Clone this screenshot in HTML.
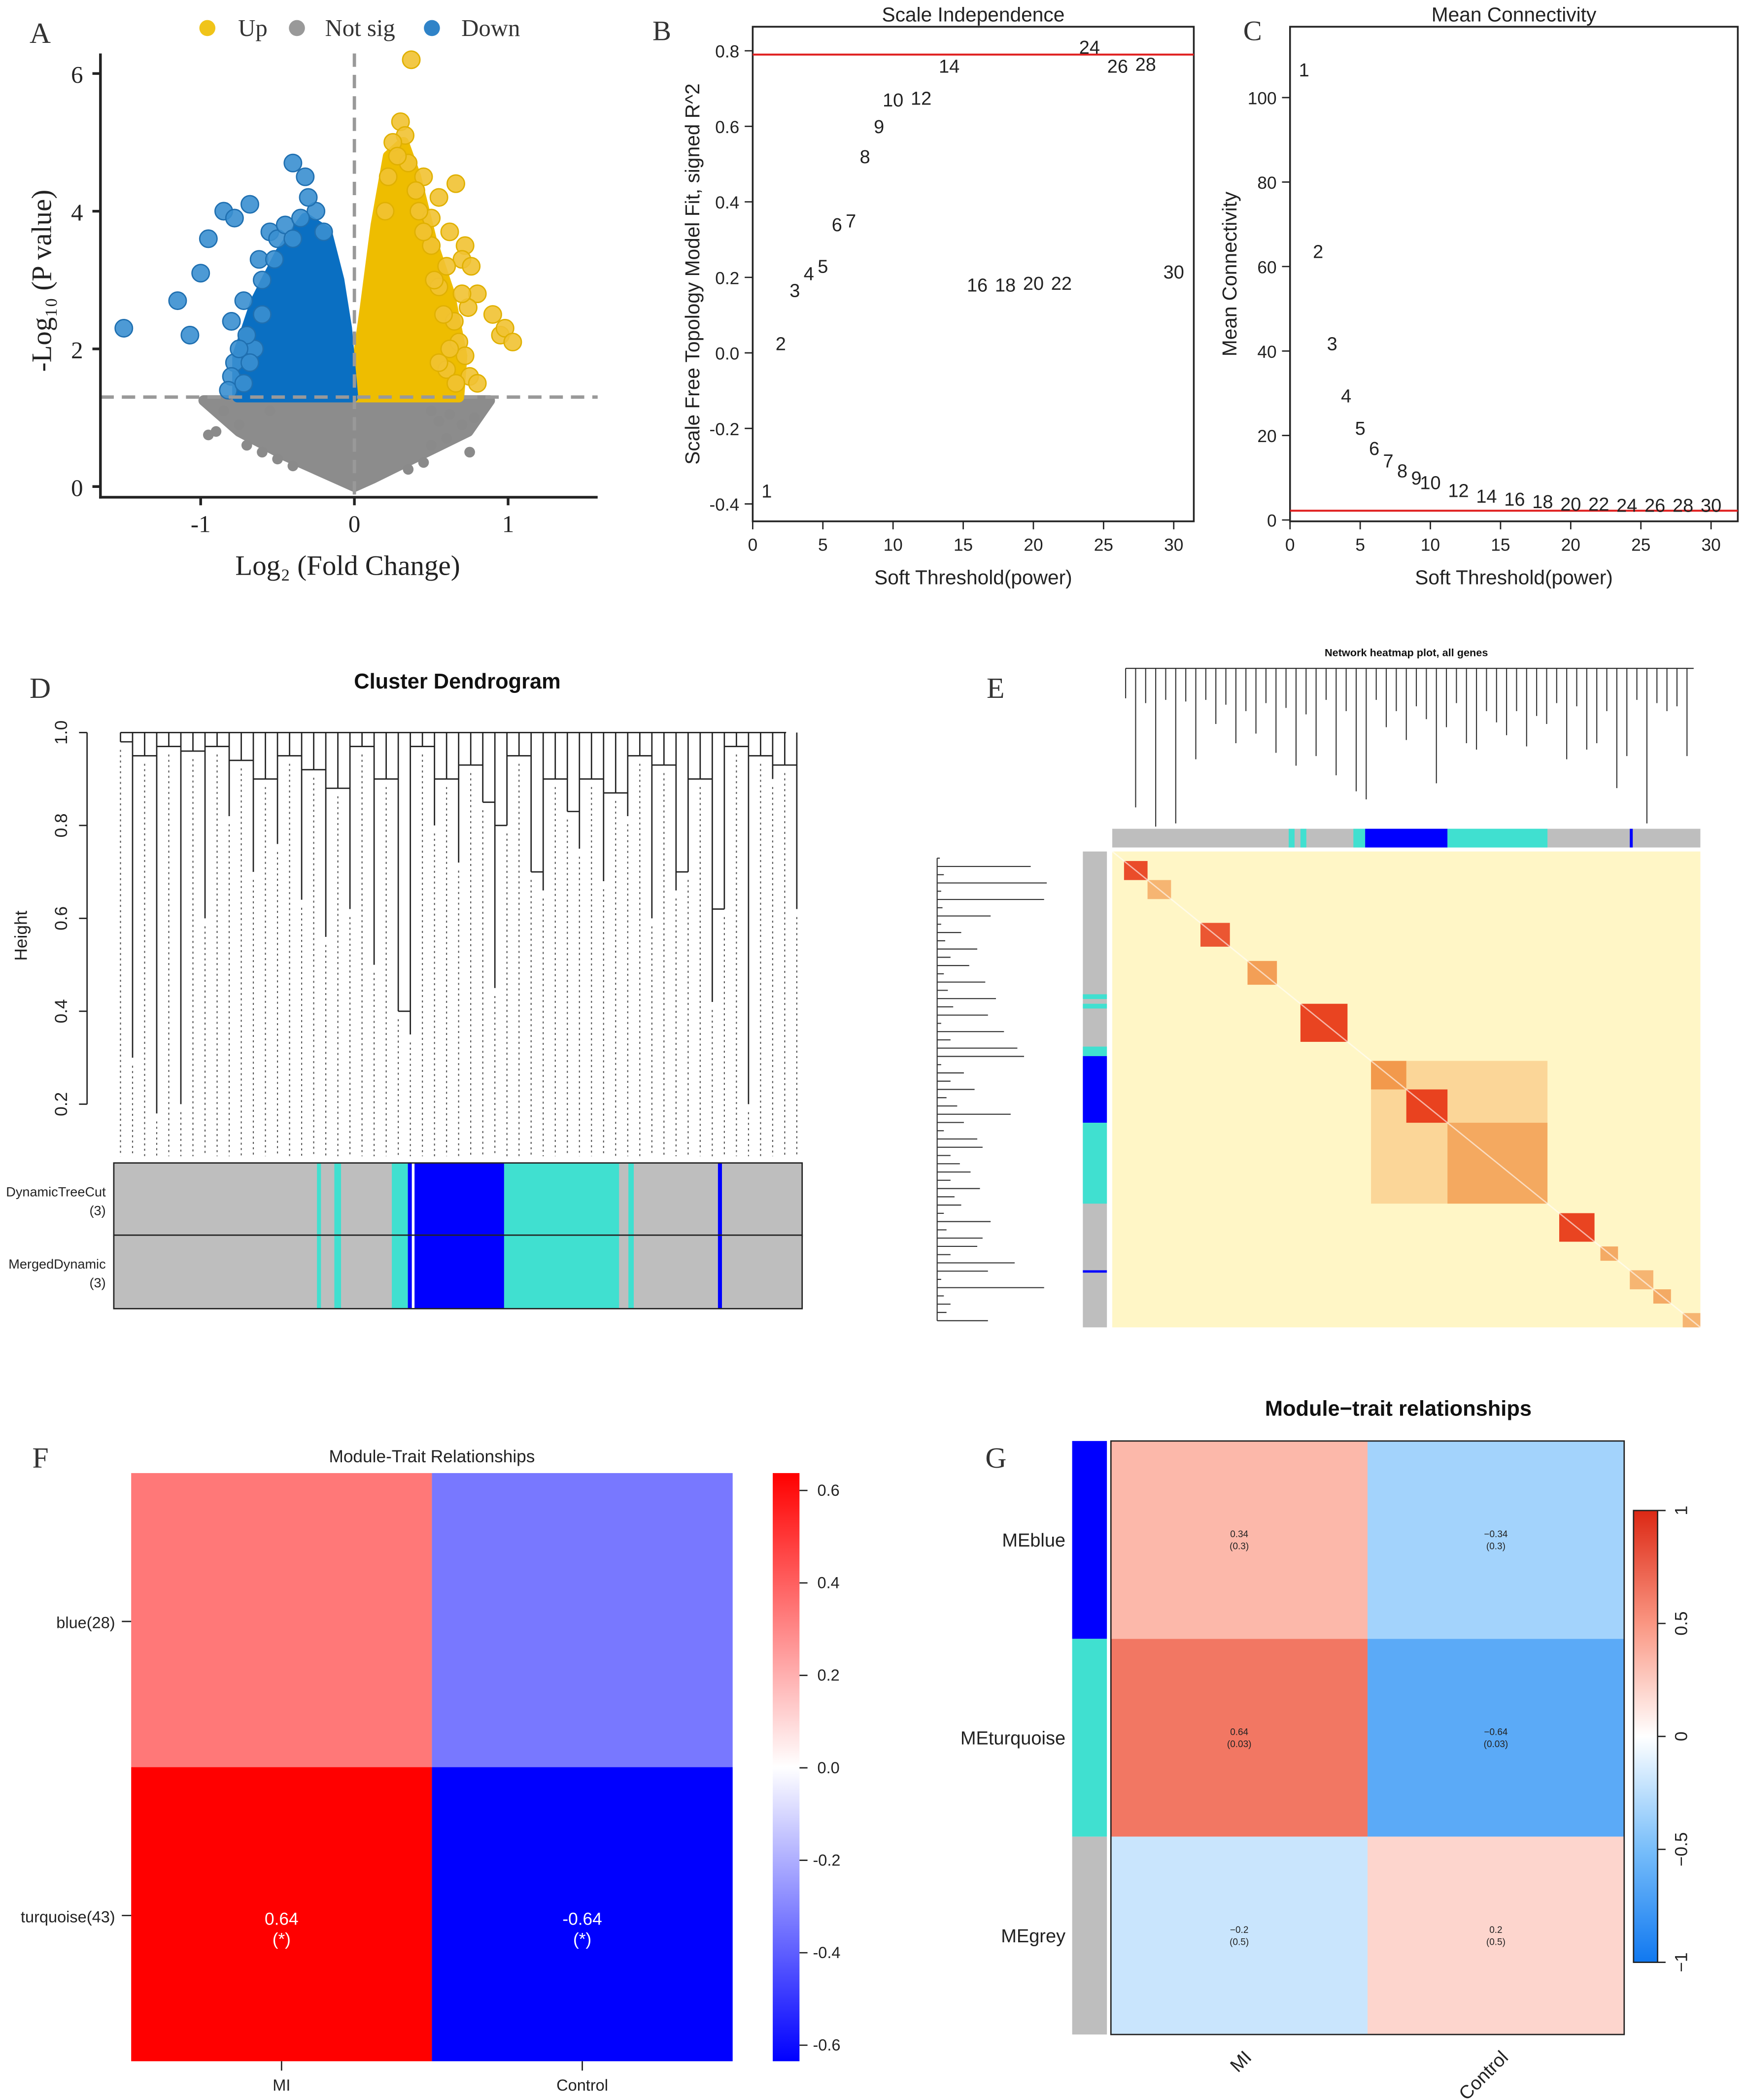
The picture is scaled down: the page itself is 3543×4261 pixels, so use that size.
<!DOCTYPE html>
<html><head><meta charset="utf-8"><style>
html,body{margin:0;padding:0;background:#fff;}
svg{display:block;font-family:"Liberation Sans",sans-serif;}
.ser{font-family:"Liberation Serif",serif;}
</style></head><body>
<svg id="fig" xmlns="http://www.w3.org/2000/svg" width="3543" height="4261" viewBox="0 0 1306 1571">
<rect width="1306" height="1571" fill="#fff"/>
<g id="A"></g>
<g id="B"></g>
<g id="C"></g>
<g id="D"></g>
<g id="E"></g>
<g id="F"></g>
<g id="G"></g>
</svg>
<script>
// ---------- data ----------
const upPts=[[0.37,6.2],[0.3,5.3],[0.33,5.1],[0.25,5.0],[0.66,4.4],[0.55,4.2],[0.45,4.5],[0.5,3.9],[0.62,3.7],[0.72,3.5],[0.7,3.3],[0.76,3.2],[0.8,2.8],[0.9,2.5],[0.95,2.2],[0.98,2.3],[1.03,2.1],[0.74,2.6],[0.68,2.1],[0.72,1.9],[0.75,1.6],[0.6,1.7],[0.8,1.5],[0.55,2.9],[0.6,3.2],[0.5,3.5],[0.42,4.0],[0.65,2.4],[0.35,4.7],[0.4,4.3],[0.58,2.5],[0.62,2.0],[0.66,1.5],[0.52,3.0],[0.45,3.7],[0.28,4.8],[0.22,4.5],[0.2,4.0],[0.55,1.8],[0.7,2.8]];
const downPts=[[-1.5,2.3],[-1.15,2.7],[-1.07,2.2],[-1.0,3.1],[-0.95,3.6],[-0.85,4.0],[-0.78,3.9],[-0.68,4.1],[-0.55,3.7],[-0.4,4.7],[-0.32,4.5],[-0.25,4.0],[-0.72,2.7],[-0.62,3.3],[-0.8,2.4],[-0.78,1.8],[-0.8,1.6],[-0.82,1.4],[-0.65,2.0],[-0.5,3.6],[-0.45,3.8],[-0.3,4.2],[-0.6,2.5],[-0.7,2.2],[-0.72,1.5],[-0.68,1.8],[-0.6,3.0],[-0.52,3.3],[-0.4,3.6],[-0.35,3.9],[-0.2,3.7],[-0.75,2.0]];
const nsPts=[[-0.95,0.75],[-0.9,0.8],[-0.7,0.6],[-0.6,0.5],[0.5,0.6],[0.6,0.7],[0.7,0.9],[0.75,0.5],[0.55,0.95],[-0.75,0.9],[-0.5,0.4],[0.45,0.35],[0.5,1.1],[-0.55,1.1],[0.62,1.05],[-0.85,1.1],[0.78,1.0],[-0.4,0.3],[0.35,0.25]];
const upCore=[[0.01,1.3],[0.68,1.3],[0.7,1.9],[0.62,2.8],[0.5,3.6],[0.4,4.5],[0.32,5.0],[0.22,4.8],[0.14,3.8],[0.07,2.6],[0.02,1.8]];
const downCore=[[-0.01,1.3],[-0.76,1.3],[-0.76,1.9],[-0.64,2.7],[-0.48,3.4],[-0.32,3.9],[-0.18,3.7],[-0.1,3.0],[-0.05,2.3]];
const nsCore=[[-0.98,1.25],[0.88,1.25],[0.74,0.8],[0.42,0.45],[0.12,0.12],[0,0.0],[-0.12,0.12],[-0.45,0.45],[-0.75,0.8]];
const powers=[1,2,3,4,5,6,7,8,9,10,12,14,16,18,20,22,24,26,28,30];
const sftFit=[-0.365,0.025,0.166,0.21,0.23,0.34,0.35,0.52,0.6,0.67,0.675,0.76,0.18,0.18,0.185,0.185,0.81,0.76,0.765,0.215];
const meanK=[106.6,63.6,41.8,29.4,21.8,17,14,11.7,10,8.9,7,5.7,5,4.4,3.8,3.8,3.5,3.5,3.5,3.5];
const leafH=[0.98,0.3,0.95,0.18,0.97,0.2,0.96,0.6,0.97,0.82,0.94,0.7,0.9,0.76,0.95,0.64,0.92,0.56,0.88,0.62,0.97,0.5,0.9,0.4,0.35,0.97,0.8,0.9,0.72,0.93,0.85,0.45,0.8,0.95,0.7,0.66,0.9,0.83,0.75,0.9,0.68,0.87,0.82,0.95,0.6,0.93,0.66,0.7,0.9,0.42,0.62,0.97,0.2,0.95,0.9,0.93,0.62];
const fRows=['blue(28)','turquoise(43)'];
const fCols=['MI','Control'];
const fVals=[[0.34,-0.34],[0.64,-0.64]];
const gRows=['MEblue','MEturquoise','MEgrey'];
const gVals=[[0.34,-0.34],[0.64,-0.64],[-0.2,0.2]];
const gP=[['0.3','0.3'],['0.03','0.03'],['0.5','0.5']];
const blocks=[[0.02,0.06,0.9],[0.06,0.1,0.6],[0.15,0.2,0.85],[0.23,0.28,0.8],[0.32,0.4,0.95],[0.44,0.5,0.8],[0.5,0.57,0.95],[0.57,0.74,0.6],[0.76,0.82,0.95],[0.83,0.86,0.7],[0.88,0.92,0.6],[0.92,0.95,0.7],[0.97,1.0,0.6]];

const NS='http://www.w3.org/2000/svg';
function el(p,t,a,txt){const e=document.createElementNS(NS,t);for(const k in a)e.setAttribute(k,a[k]);if(txt!==undefined)e.textContent=txt;p.appendChild(e);return e;}
function lin(d0,d1,r0,r1){return v=>r0+(v-d0)*(r1-r0)/(d1-d0);}

// ---------- A ----------
(function(){
const g=document.getElementById('A');
const x=lin(0,1,265,380), y=lin(0,2,364,261);
let t=el(g,'text',{x:22,y:32,'font-size':22,class:'ser',fill:'#333'},'A');

[['#f0c419',155,'Up',178],['#999',222,'Not sig',243],['#2f83c8',323,'Down',345]].forEach((l,i)=>{
 const lg=el(g,'g',{});
 el(lg,'circle',{cx:l[1],cy:21,r:6,fill:l[0]});el(lg,'text',{x:l[3],y:27,'font-size':18,class:'ser',fill:'#333'},l[2]);});
const poly=(pts,c,n)=>{const p=el(g,'polygon',{points:pts.map(q=>x(q[0])+','+y(q[1])).join(' '),fill:c,stroke:c,'stroke-width':8,'stroke-linejoin':'round'});};
poly(nsCore,'#8c8c8c','not-sig-core');poly(upCore,'#eebd00','up-core');poly(downCore,'#0a6fc2','down-core');
nsPts.forEach(p=>{const c=el(g,'circle',{cx:x(p[0]),cy:y(p[1]),r:4,fill:'#8a8a8a'});});
upPts.forEach(p=>{const c=el(g,'circle',{cx:x(p[0]),cy:y(p[1]),r:6.5,fill:'#f1c232',stroke:'#e0b000','fill-opacity':0.9});});
downPts.forEach(p=>{const c=el(g,'circle',{cx:x(p[0]),cy:y(p[1]),r:6.5,fill:'#3a8fd0',stroke:'#1f6fb0','fill-opacity':0.9});});
el(g,'line',{x1:75,y1:y(1.3),x2:447,y2:y(1.3),stroke:'#999','stroke-width':2.5,'stroke-dasharray':'10,6'});
el(g,'line',{x1:265,y1:40,x2:265,y2:372,stroke:'#999','stroke-width':2.5,'stroke-dasharray':'10,6'});
el(g,'line',{x1:75,y1:40,x2:75,y2:373,stroke:'#222','stroke-width':2});
el(g,'line',{x1:74,y1:372,x2:447,y2:372,stroke:'#222','stroke-width':2});
[0,2,4,6].forEach(v=>{el(g,'line',{x1:69,y1:y(v),x2:75,y2:y(v),stroke:'#222','stroke-width':2});el(g,'text',{x:62,y:y(v)+7,'font-size':18,class:'ser','text-anchor':'end',fill:'#222'},v);});
[-1,0,1].forEach(v=>{el(g,'line',{x1:x(v),y1:372,x2:x(v),y2:378,stroke:'#222','stroke-width':2});el(g,'text',{x:x(v),y:398,'font-size':18,class:'ser','text-anchor':'middle',fill:'#222'},v);});
el(g,'text',{x:260,y:430,'font-size':21,class:'ser','text-anchor':'middle',fill:'#222'},'Log\u2082 (Fold Change)');
el(g,'text',{transform:'translate(38,210) rotate(-90)','font-size':21,class:'ser','text-anchor':'middle',fill:'#222'},'-Log\u2081\u2080 (P value)');
})();

// ---------- B & C ----------
function scatterText(id,letter,lx,box,xd,yd,yTicks,yTickLab,vals,redV,title,ylab){
 const g=document.getElementById(id);
 const x=lin(0,30,xd[0],xd[1]), y=lin(yd[0],yd[1],yd[2],yd[3]);
 el(g,'text',{x:lx,y:30,'font-size':21,class:'ser',fill:'#333'},letter);
 el(g,'text',{x:(box[0]+box[2])/2,y:16,'font-size':15,'text-anchor':'middle',fill:'#222'},title);
 el(g,'rect',{x:box[0],y:box[1],width:box[2]-box[0],height:box[3]-box[1],fill:'none',stroke:'#222','stroke-width':1.3});
 [0,5,10,15,20,25,30].forEach(v=>{el(g,'line',{x1:x(v),y1:box[3],x2:x(v),y2:box[3]+6,stroke:'#222'});el(g,'text',{x:x(v),y:box[3]+22,'font-size':13,'text-anchor':'middle',fill:'#222'},v);});
 yTicks.forEach((v,i)=>{el(g,'line',{x1:box[0]-6,y1:y(v),x2:box[0],y2:y(v),stroke:'#222'});el(g,'text',{x:box[0]-10,y:y(v)+5,'font-size':13,'text-anchor':'end',fill:'#222'},yTickLab[i]);});
 const r=el(g,'line',{x1:box[0],y1:y(redV),x2:box[2],y2:y(redV),stroke:'#e02020','stroke-width':1.5});
 powers.forEach((p,i)=>{const t=el(g,'text',{x:x(p),y:y(vals[i])+5,'font-size':14,'text-anchor':'middle',fill:'#222'},p);});
 el(g,'text',{x:(box[0]+box[2])/2,y:box[3]+47,'font-size':15,'text-anchor':'middle',fill:'#222'},'Soft Threshold(power)');
 el(g,'text',{transform:`translate(${box[0]-40},${(box[1]+box[3])/2}) rotate(-90)`,'font-size':15,'text-anchor':'middle',fill:'#222'},ylab);
}
scatterText('B','B',488,[563,20,893,390],[563,878],[0,0.8,264,38],[-0.4,-0.2,0,0.2,0.4,0.6,0.8],['-0.4','-0.2','0.0','0.2','0.4','0.6','0.8'],sftFit,0.79,'Scale Independence','Scale Free Topology Model Fit, signed R^2');
scatterText('C','C',930,[965,20,1300,390],[965,1280],[0,100,389,73],[0,20,40,60,80,100],['0','20','40','60','80','100'],meanK,2.2,'Mean Connectivity','Mean Connectivity');

// ---------- D ----------
(function(){
const g=document.getElementById('D');
el(g,'text',{x:22,y:522,'font-size':22,class:'ser',fill:'#333'},'D');
el(g,'text',{x:342,y:515,'font-size':16,'font-weight':'bold','text-anchor':'middle',fill:'#111'},'Cluster Dendrogram');
const y=lin(0.2,1.0,826,548);
el(g,'line',{x1:65,y1:y(1.0),x2:65,y2:y(0.2),stroke:'#222'});
[0.2,0.4,0.6,0.8,1.0].forEach(v=>{el(g,'line',{x1:59,y1:y(v),x2:65,y2:y(v),stroke:'#222'});el(g,'text',{transform:`translate(50,${y(v)}) rotate(-90)`,'font-size':13,'text-anchor':'middle',fill:'#222'},v.toFixed(1));});
el(g,'text',{transform:'translate(20,700) rotate(-90)','font-size':13,'text-anchor':'middle',fill:'#222'},'Height');
const n=leafH.length, x0=90, x1=596;
const lx=i=>x0+i*(x1-x0)/(n-1);
el(g,'line',{x1:x0,y1:y(1.0),x2:588,y2:y(1.0),stroke:'#222'});
leafH.forEach((h,i)=>{
 const l=el(g,'line',{x1:lx(i),y1:y(Math.min(h,1)),x2:lx(i),y2:y(1.0),stroke:'#222','stroke-width':1});
 el(g,'line',{x1:lx(i),y1:y(h)+6,x2:lx(i),y2:865,stroke:'#555','stroke-dasharray':'1.5,2.5','stroke-width':0.8});
 if(i<n-1){el(g,'line',{x1:lx(i),y1:y(Math.max(h,leafH[i+1])),x2:lx(i+1),y2:y(Math.max(h,leafH[i+1])),stroke:'#222'});}
});
const segs=[['#bebebe',85,600],['#40e0d0',237,240],['#40e0d0',250,255],['#40e0d0',293,305],['#0000ff',305,308],['#ffffff',308,310],['#0000ff',310,377],['#40e0d0',377,463],['#40e0d0',470,474],['#0000ff',537,540]];
[870,924].forEach((yy,k)=>{segs.forEach(s=>{const r=el(g,'rect',{x:s[1],y:yy,width:s[2]-s[1],height:55,fill:s[0]});});
 el(g,'rect',{x:85,y:yy,width:515,height:55,fill:'none',stroke:'#222'});});
el(g,'text',{x:79,y:895,'font-size':10,'text-anchor':'end',fill:'#222'},'DynamicTreeCut');
el(g,'text',{x:79,y:909,'font-size':10,'text-anchor':'end',fill:'#222'},'(3)');
el(g,'text',{x:79,y:949,'font-size':10,'text-anchor':'end',fill:'#222'},'MergedDynamic');
el(g,'text',{x:79,y:963,'font-size':10,'text-anchor':'end',fill:'#222'},'(3)');
})();

// ---------- E ----------
(function(){
const g=document.getElementById('E');
el(g,'text',{x:738,y:522,'font-size':22,class:'ser',fill:'#333'},'E');
el(g,'text',{x:1052,y:491,'font-size':8,'font-weight':'bold','text-anchor':'middle',fill:'#111'},'Network heatmap plot, all genes');
const X0=832,X1=1272,Y0=637,Y1=993,W=X1-X0,H=Y1-Y0;
el(g,'rect',{x:X0,y:Y0,width:W,height:H,fill:'#fff6c6'});
el(g,'rect',{x:X0+0.44*W,y:Y0+0.44*H,width:0.3*W,height:0.3*H,fill:'#f7b060','fill-opacity':0.45});
blocks.forEach(b=>{
 const r=el(g,'rect',{x:X0+b[0]*W,y:Y0+b[0]*H,width:(b[1]-b[0])*W,height:(b[1]-b[0])*H,fill:b[2]>0.8?'#e83a18':'#f08a3a','fill-opacity':b[2]});
 });
el(g,'line',{x1:X0,y1:Y0,x2:X1,y2:Y1,stroke:'#ffffff','stroke-width':1,'stroke-opacity':0.6});
[['#bebebe',0,1],['#40e0d0',0.3,0.31],['#40e0d0',0.32,0.33],['#40e0d0',0.41,0.43],['#0000ff',0.43,0.57],['#40e0d0',0.57,0.74],['#0000ff',0.88,0.885]].forEach(s=>{
 el(g,'rect',{x:X0+s[1]*W,y:620,width:(s[2]-s[1])*W,height:14,fill:s[0]});
 el(g,'rect',{x:810,y:Y0+s[1]*H,width:18,height:(s[2]-s[1])*H,fill:s[0]});});
leafH.forEach((h,i)=>{const xx=X0+10+i*(W-20)/(leafH.length-1);
 el(g,'line',{x1:xx,y1:500,x2:xx,y2:500+(1-h)*120+20,stroke:'#333','stroke-width':0.8});
 el(g,'line',{x1:701+(1-h)*100,y1:Y0+5+i*(H-10)/(leafH.length-1),x2:701,y2:Y0+5+i*(H-10)/(leafH.length-1),stroke:'#333','stroke-width':0.8});});
el(g,'line',{x1:X0+10,y1:500,x2:X1-5,y2:500,stroke:'#333','stroke-width':0.8});
el(g,'line',{x1:701,y1:Y0+5,x2:701,y2:Y1-5,stroke:'#333','stroke-width':0.8});
})();

// ---------- F ----------
(function(){
const g=document.getElementById('F');
el(g,'text',{x:24,y:1098,'font-size':22,class:'ser',fill:'#333'},'F');
el(g,'text',{x:323,y:1094,'font-size':13,'text-anchor':'middle',fill:'#222'},'Module-Trait Relationships');
const X0=98,Y0=1102,cw=225,ch=220;
const col=v=>{const a=Math.min(1,Math.abs(v)/0.64);const c=Math.round(255*(1-a));return v>0?`rgb(255,${c},${c})`:`rgb(${c},${c},255)`;};
fVals.forEach((row,i)=>row.forEach((v,j)=>{
 const r=el(g,'rect',{x:X0+j*cw,y:Y0+i*ch,width:cw,height:ch,fill:col(v)});
 if(i==1){el(g,'text',{x:X0+j*cw+cw/2,y:Y0+i*ch+ch/2+8,'font-size':13,'text-anchor':'middle',fill:'#fff'},v.toFixed(2));el(g,'text',{x:X0+j*cw+cw/2,y:Y0+i*ch+ch/2+23,'font-size':13,'text-anchor':'middle',fill:'#fff'},'(*)');}
}));
fRows.forEach((r,i)=>{const yy=Y0+i*ch+ch/2+1;el(g,'line',{x1:91,y1:yy,x2:98,y2:yy,stroke:'#222'});el(g,'text',{x:86,y:yy+5,'font-size':12,'text-anchor':'end',fill:'#222'},r);});
fCols.forEach((c,j)=>{const xx=X0+j*cw+cw/2;el(g,'line',{x1:xx,y1:1542,x2:xx,y2:1549,stroke:'#222'});el(g,'text',{x:xx,y:1564,'font-size':12,'text-anchor':'middle',fill:'#222'},c);});
const df=el(g,'defs',{});const lg=el(df,'linearGradient',{id:'gf',x1:0,y1:0,x2:0,y2:1});
el(lg,'stop',{offset:0,'stop-color':'#ff0000'});el(lg,'stop',{offset:0.5,'stop-color':'#ffffff'});el(lg,'stop',{offset:1,'stop-color':'#0000ff'});
el(g,'rect',{x:578,y:1102,width:20,height:440,fill:'url(#gf)'});
const cy=lin(-0.6,0.6,1530,1115);
[0.6,0.4,0.2,0,-0.2,-0.4,-0.6].forEach(v=>{el(g,'line',{x1:598,y1:cy(v),x2:604,y2:cy(v),stroke:'#222'});el(g,'text',{x:608,y:cy(v)+4,'font-size':12,fill:'#222'},(v<0?'-':'\u00a0')+Math.abs(v).toFixed(1));});
})();

// ---------- G ----------
(function(){
const g=document.getElementById('G');
el(g,'text',{x:737,y:1098,'font-size':22,class:'ser',fill:'#333'},'G');
el(g,'text',{x:1046,y:1059,'font-size':16,'font-weight':'bold','text-anchor':'middle',fill:'#111'},'Module\u2212trait relationships');
const X0=831,Y0=1078,cw=192,ch=148;
const stops=[[-1,[16,120,240]],[-0.5,[120,190,250]],[0,[255,255,255]],[0.5,[250,150,130]],[1,[220,40,20]]];
const col=v=>{for(let k=0;k<stops.length-1;k++){const a=stops[k],b=stops[k+1];if(v<=b[0]){const t=(v-a[0])/(b[0]-a[0]);return 'rgb('+a[1].map((c,q)=>Math.round(c+(b[1][q]-c)*t)).join(',')+')';}}return 'rgb(220,40,20)';};
gVals.forEach((row,i)=>row.forEach((v,j)=>{
 const r=el(g,'rect',{x:X0+j*cw,y:Y0+i*ch,width:cw,height:ch,fill:col(v)});
 const s=(v<0?'\u2212':'')+Math.abs(v);
 el(g,'text',{x:X0+j*cw+cw/2,y:Y0+i*ch+ch/2-2,'font-size':7,'text-anchor':'middle',fill:'#222'},s);
 el(g,'text',{x:X0+j*cw+cw/2,y:Y0+i*ch+ch/2+7,'font-size':7,'text-anchor':'middle',fill:'#222'},'('+gP[i][j]+')');
}));
el(g,'rect',{x:X0,y:Y0,width:2*cw,height:3*ch,fill:'none',stroke:'#222'});
['#0000ff','#40e0d0','#bebebe'].forEach((c,i)=>el(g,'rect',{x:802,y:Y0+i*ch,width:26,height:ch,fill:c}));
gRows.forEach((r,i)=>el(g,'text',{x:797,y:Y0+i*ch+ch/2+5,'font-size':14,'text-anchor':'end',fill:'#222'},r));
['MI','Control'].forEach((c,j)=>el(g,'text',{transform:`translate(${X0+j*cw+cw/2+10},${1540}) rotate(-45)`,'font-size':14,'text-anchor':'end',fill:'#222'},c));
const df=el(g,'defs',{});const lg=el(df,'linearGradient',{id:'gg',x1:0,y1:0,x2:0,y2:1});
[...stops].reverse().forEach((s,k)=>el(lg,'stop',{offset:k/4,'stop-color':'rgb('+s[1].join(',')+')'}));
el(g,'rect',{x:1222,y:1130,width:18,height:338,fill:'url(#gg)',stroke:'#222'});
const cy=lin(-1,1,1468,1130);
[[1,'1'],[0.5,'0.5'],[0,'0'],[-0.5,'\u22120.5'],[-1,'\u22121']].forEach(t=>{el(g,'line',{x1:1240,y1:cy(t[0]),x2:1246,y2:cy(t[0]),stroke:'#222'});el(g,'text',{transform:`translate(1262,${cy(t[0])}) rotate(-90)`,'font-size':13,'text-anchor':'middle',fill:'#222'},t[1]);});
})();
</script>
</body></html>
